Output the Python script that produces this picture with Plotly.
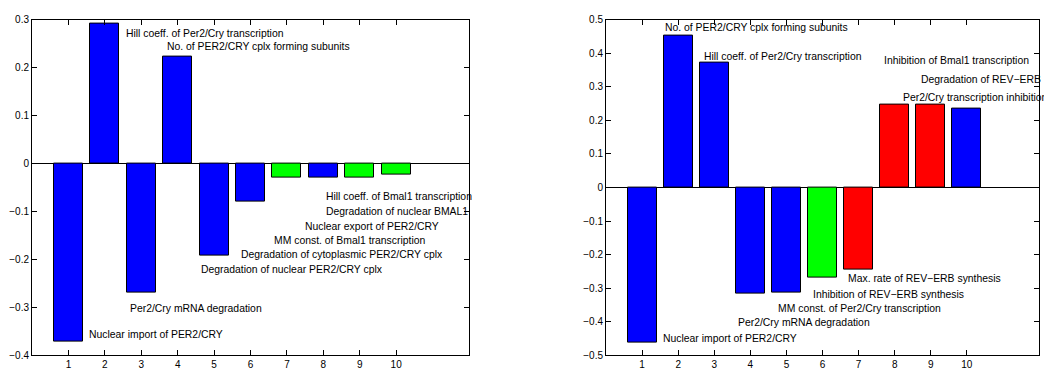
import plotly.graph_objects as go

# Parameter index for both panels
params = [1, 2, 3, 4, 5, 6, 7, 8, 9, 10]

# Left panel: sensitivity coefficients and bar groups
left_values = [-0.372, 0.291, -0.270, 0.222, -0.193, -0.079, -0.030, -0.030, -0.030, -0.0225]
left_groups = ["b", "b", "b", "b", "b", "b", "g", "b", "g", "g"]

# Right panel: sensitivity coefficients and bar groups
right_values = [-0.461, 0.452, 0.371, -0.317, -0.313, -0.268, -0.246, 0.247, 0.246, 0.235]
right_groups = ["b", "b", "b", "b", "b", "g", "r", "r", "r", "b"]

left_labels = [
    "Nuclear import of PER2/CRY",
    "Per2/Cry mRNA degradation",
    "Degradation of nuclear PER2/CRY cplx",
    "Degradation of cytoplasmic PER2/CRY cplx",
    "MM const. of Bmal1 transcription",
    "Nuclear export of PER2/CRY",
    "Degradation of nuclear BMAL1",
    "Hill coeff. of Bmal1 transcription",
    "Hill coeff. of Per2/Cry transcription",
    "No. of PER2/CRY cplx forming subunits",
]
right_labels = [
    "No. of PER2/CRY cplx forming subunits",
    "Hill coeff. of Per2/Cry transcription",
    "Inhibition of Bmal1 transcription",
    "Degradation of REV\u2212ERB",
    "Per2/Cry transcription inhibition",
    "Max. rate of REV\u2212ERB synthesis",
    "Inhibition of REV\u2212ERB synthesis",
    "MM const. of Per2/Cry transcription",
    "Per2/Cry mRNA degradation",
    "Nuclear import of PER2/CRY",
]

# Where each label's left edge sits, in data units of its panel
left_label_at = [
    (1.53, -0.356), (2.65, -0.303), (4.62, -0.220), (5.71, -0.190),
    (6.63, -0.160), (7.48, -0.131), (8.05, -0.100), (8.05, -0.069),
    (2.55, 0.272), (3.67, 0.243),
]
right_label_at = [
    (1.61, 0.476), (2.68, 0.389), (7.68, 0.377), (8.70, 0.321),
    (8.21, 0.269), (6.69, -0.270), (5.71, -0.319), (4.73, -0.360),
    (3.64, -0.403), (1.54, -0.450),
]

palette = {"b": "#0000ff", "g": "#00ff00", "r": "#ff0000"}
FONT = "Liberation Sans, Arial, Helvetica, sans-serif"

fig = go.Figure()
fig.add_trace(go.Bar(
    x=params, y=left_values, width=0.8,
    marker=dict(color=[palette[g] for g in left_groups], line=dict(color="black", width=1)),
    xaxis="x", yaxis="y", showlegend=False,
))
fig.add_trace(go.Bar(
    x=params, y=right_values, width=0.8,
    marker=dict(color=[palette[g] for g in right_groups], line=dict(color="black", width=1)),
    xaxis="x2", yaxis="y2", showlegend=False,
))


def fmt(v):
    s = f"{v:.1f}" if abs(v) > 1e-9 else "0"
    return s.replace("-", "\u2212")


left_ticks = [-0.4, -0.3, -0.2, -0.1, 0, 0.1, 0.2, 0.3]
right_ticks = [-0.5, -0.4, -0.3, -0.2, -0.1, 0, 0.1, 0.2, 0.3, 0.4, 0.5]

axis_common = dict(
    showline=True, linecolor="black", linewidth=1, mirror="ticks",
    ticks="inside", ticklen=5, tickwidth=1, tickcolor="black",
    showgrid=False, tickfont=dict(family=FONT, size=10, color="black"),
)

fig.update_layout(
    width=1044, height=373,
    margin=dict(l=0, r=0, t=0, b=0),
    paper_bgcolor="white", plot_bgcolor="white",
    bargap=0,
    xaxis=dict(domain=[32 / 1044, 469 / 1044], range=[0, 12],
               tickvals=params, ticktext=[str(p) for p in params],
               zeroline=False, anchor="y", **axis_common),
    yaxis=dict(domain=[1 - 360 / 373, 1 - 15 / 373], range=[-0.4, 0.3],
               tickvals=left_ticks, ticktext=[fmt(v) for v in left_ticks],
               zeroline=True, zerolinecolor="black", zerolinewidth=1,
               anchor="x", **axis_common),
    xaxis2=dict(domain=[606 / 1044, 1039 / 1044], range=[0, 12],
                tickvals=params, ticktext=[str(p) for p in params],
                zeroline=False, anchor="y2", **axis_common),
    yaxis2=dict(domain=[1 - 360 / 373, 1 - 15 / 373], range=[-0.5, 0.5],
                tickvals=right_ticks, ticktext=[fmt(v) for v in right_ticks],
                zeroline=True, zerolinecolor="black", zerolinewidth=1,
                anchor="x2", **axis_common),
)

annotations = []
for text, (ax, ay) in zip(left_labels, left_label_at):
    annotations.append(dict(x=ax, y=ay, xref="x", yref="y", text=text,
                            showarrow=False, xanchor="left", yanchor="middle",
                            borderpad=0, font=dict(family=FONT, size=10.4, color="black")))
for text, (ax, ay) in zip(right_labels, right_label_at):
    annotations.append(dict(x=ax, y=ay, xref="x2", yref="y2", text=text,
                            showarrow=False, xanchor="left", yanchor="middle",
                            borderpad=0, font=dict(family=FONT, size=10.4, color="black")))
fig.update_layout(annotations=annotations)

fig.write_html("out.html")
